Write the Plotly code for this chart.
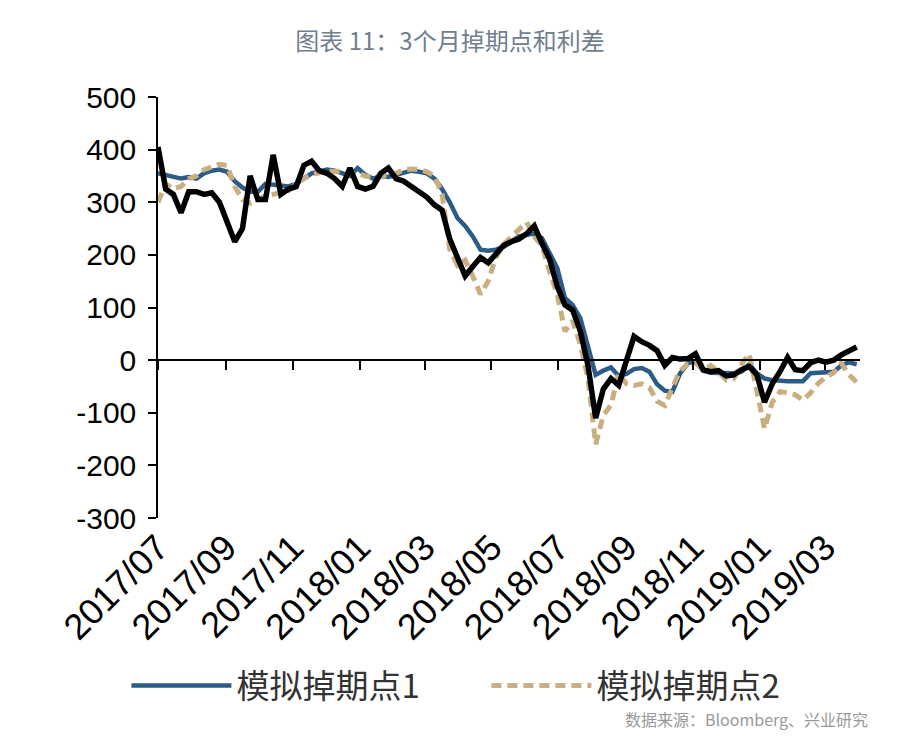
import pandas as pd
import plotly.graph_objects as go

# datas semanais (jul/2017 - mar/2019)
datas = pd.date_range('2017-07-01', periods=92, freq='7D')

# linha preta (利差), sem legenda
spread = [405, 325, 315, 280, 320, 320, 315, 318, 300, 265,
          225, 250, 350, 305, 305, 390, 315, 325, 330, 370,
          378, 360, 355, 345, 330, 365, 330, 325, 330, 355,
          365, 345, 340, 330, 320, 310, 295, 285, 230, 195,
          160, 178, 195, 185, 200, 218, 225, 230, 240, 255,
          222, 192, 140, 105, 95, 55, -10, -110, -55, -35,
          -48, 0, 45, 35, 28, 18, -10, 5, 2, 3,
          12, -18, -22, -20, -30, -28, -18, -12, -28, -80,
          -45, -22, 5, -18, -20, -5, 0, -4, 0, 10,
          18, 25]

# 模拟掉期点1
swap1 = [355, 352, 350, 345, 348, 345, 355, 360, 362, 358,
         340, 328, 320, 320, 335, 333, 330, 330, 335, 345,
         355, 358, 362, 360, 355, 350, 365, 352, 345, 350,
         348, 352, 358, 360, 358, 355, 345, 325, 300, 270,
         255, 235, 210, 208, 210, 215, 225, 235, 238, 240,
         232, 205, 175, 118, 105, 80, 25, -28, -20, -14,
         -30, -26, -17, -15, -22, -46, -58, -60, -25, -6,
         -2, -20, -24, -25, -26, -25, -22, -8, -25, -35,
         -38, -40, -40, -40, -40, -25, -24, -24, -22, -10,
         -4, -8]

# 模拟掉期点2
swap2 = [300, 335, 325, 330, 345, 350, 362, 367, 372, 370,
         330, 305, 298, 305, 312, 315, 318, 322, 335, 345,
         352, 355, 360, 358, 360, 355, 355, 350, 348, 350,
         350, 355, 362, 363, 362, 358, 350, 315, 210, 180,
         190, 160, 125, 150, 195, 220, 235, 248, 262, 235,
         218, 168, 125, 55, 75, 30, -35, -160, -105, -85,
         -25, -45, -48, -45, -52, -78, -86, -52, -20, -8,
         -5, -18, -10, -22, -38, -35, -8, 12, -58, -130,
         -80, -60, -62, -66, -76, -62, -44, -32, -24, -6,
         -28, -42]

tick_datas = pd.date_range('2017-07-01', '2019-03-01', freq='2MS')
tick_labels = ['2017/07', '2017/09', '2017/11', '2018/01', '2018/03', '2018/05',
               '2018/07', '2018/09', '2018/11', '2019/01', '2019/03']

y_ticks = [-300, -200, -100, 0, 100, 200, 300, 400, 500]
y_labels = ['-300', '-200', '-100', '0', '100', '200', '300', '400', '500']

fonte_num = 'Liberation Sans, Arial, sans-serif'
fonte_cjk = 'Noto Sans CJK SC, sans-serif'

fig = go.Figure()
fig.add_trace(go.Scatter(x=datas, y=swap1, name='模拟掉期点1', mode='lines',
                         line=dict(color='#2b5b86', width=4.5)))
fig.add_trace(go.Scatter(x=datas, y=swap2, name='模拟掉期点2', mode='lines',
                         line=dict(color='#c9ae80', width=5, dash='10px,6px')))
fig.add_trace(go.Scatter(x=datas, y=spread, name='利差', mode='lines', showlegend=False,
                         line=dict(color='black', width=5.5)))
# trace vazia so para desenhar o eixo x2 (linha do zero com ticks)
fig.add_trace(go.Scatter(x=[datas[0]], y=[None], xaxis='x2', showlegend=False,
                         hoverinfo='skip'))

# o body da pagina tem 8px de margem, por isso l/t menores
fig.update_layout(
    width=900, height=743,
    paper_bgcolor='white', plot_bgcolor='white',
    margin=dict(l=150, r=48, t=89, b=233),
    title=dict(text='图表 11：3个月掉期点和利差', x=442 / 900, xref='container', xanchor='center',
               y=1 - 34 / 743, yref='container', yanchor='middle',
               font=dict(family=fonte_cjk, size=24, color='#6f7f90')),
    xaxis=dict(
        type='date', range=['2017-07-01', '2019-04-02'],
        tickmode='array', tickvals=tick_datas, ticktext=tick_labels,
        tickangle=-45, ticks='', showline=False, showgrid=False, zeroline=False,
        tickfont=dict(family=fonte_num, size=36, color='black'),
    ),
    xaxis2=dict(
        type='date', overlaying='x', matches='x', anchor='free', position=0.375,
        tickmode='array', tickvals=tick_datas, showticklabels=False,
        ticks='outside', ticklen=9, tickwidth=1.5, tickcolor='black',
        showline=True, linecolor='black', linewidth=1.5, showgrid=False, zeroline=False,
    ),
    yaxis=dict(
        range=[-300, 500], tickmode='array', tickvals=y_ticks, ticktext=y_labels,
        ticks='outside', ticklen=8, tickwidth=1.5,
        tickcolor='black', showline=True, linecolor='black', linewidth=1.5,
        showgrid=False, zeroline=False, ticklabelstandoff=6,
        tickfont=dict(family=fonte_num, size=30, color='black'),
    ),
    legend=dict(orientation='h', x=-0.045, xanchor='left', y=-0.398, yanchor='middle',
                itemwidth=100, entrywidth=245,
                font=dict(family=fonte_cjk, size=33, color='#333333')),
    annotations=[dict(text='数据来源：Bloomberg、兴业研究', xref='paper', yref='paper',
                      x=1.014, y=-0.478, xanchor='right', yanchor='middle', showarrow=False,
                      font=dict(family=fonte_cjk, size=16, color='#999999'))],
)

fig.write_html('out.html')
